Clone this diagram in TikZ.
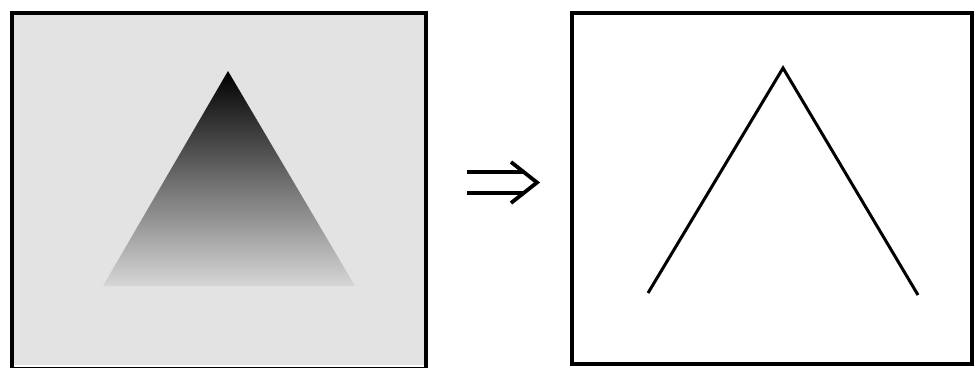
\documentclass[tikz,border=0pt]{standalone}
\begin{document}
\begin{tikzpicture}[x=1pt,y=-1pt,
  panel/.style={draw=black,line width=4pt},
  stroke/.style={draw=black,line width=3pt,line join=miter}]
\useasboundingbox (0,0) rectangle (976,367);
% left panel
\fill[black!11] (12,13) rectangle (426,365);
\coordinate (apex) at (228,71);
\coordinate (bl) at (103,286);
\coordinate (br) at (355,286);
\shade[top color=black, bottom color=black!16] (apex) -- (br) -- (bl) -- cycle;
\draw[panel] (12,13) rectangle (426,369);
% arrow
\coordinate (a1) at (467,172);
\coordinate (a2) at (524,172);
\coordinate (b1) at (467,193);
\coordinate (b2) at (524,193);
\coordinate (c1) at (511,162);
\coordinate (tip) at (537,182.5);
\coordinate (c2) at (511,203);
\draw[line width=4pt] (a1) -- (a2);
\draw[line width=4pt] (b1) -- (b2);
\draw[line width=3.8pt,line join=miter] (c1) -- (tip) -- (c2);
% right panel
\draw[draw=black,line width=3.2pt] (572,13) rectangle (972,364);
\coordinate (p1) at (648,293);
\coordinate (p2) at (783,68);
\coordinate (p3) at (918,295);
\draw[stroke] (p1) -- (p2) -- (p3);
\end{tikzpicture}
\end{document}
